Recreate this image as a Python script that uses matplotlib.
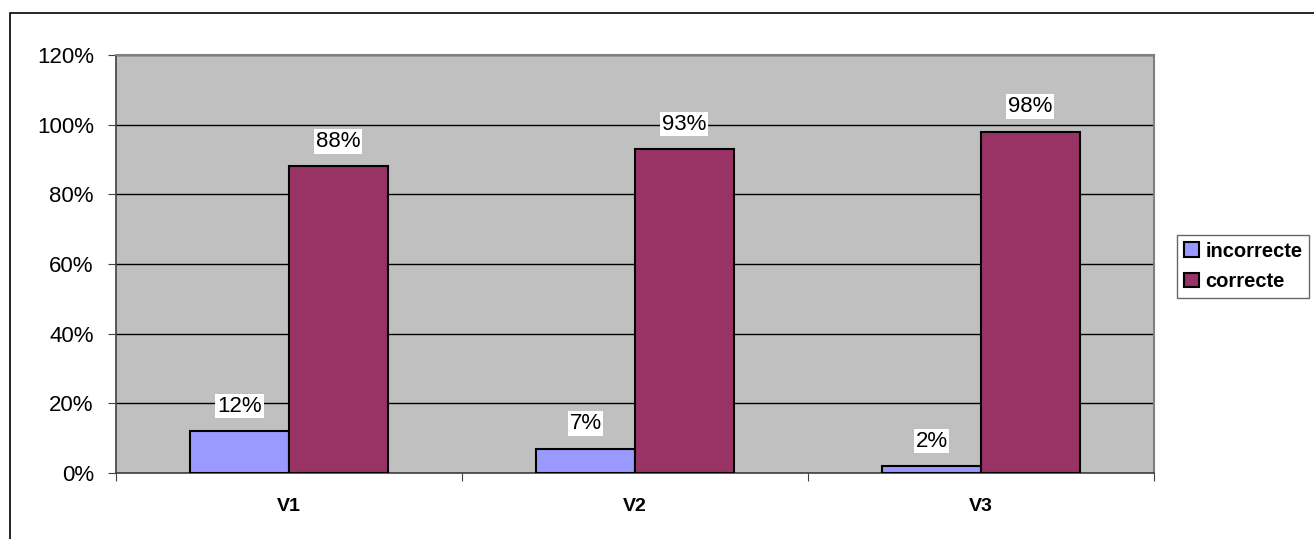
import numpy as np
import matplotlib.pyplot as plt
from matplotlib.patches import Rectangle

categories = ['V1', 'V2', 'V3']
incorrecte = [12, 7, 2]
correcte = [88, 93, 98]
yticks = [0, 20, 40, 60, 80, 100, 120]

plt.rcParams['font.family'] = ['Liberation Sans', 'DejaVu Sans']

W, H = 1314, 539
fig = plt.figure(figsize=(W / 100, H / 100), dpi=100)
# plot area in pixels: left 116, top 55, right 1154, bottom 473
ax = fig.add_axes([116 / W, 1 - 473 / H, (1154 - 116) / W, (473 - 55) / H])
ax.set_facecolor('#C0C0C0')

# outer chart border (right and bottom fall outside the image)
fig.patches.append(Rectangle((10 / W, -0.05), 1.0, 1 - 13 / H + 0.05,
                             transform=fig.transFigure, fill=False,
                             edgecolor='black', linewidth=1.2))

x = np.arange(len(categories))
bw = 1 / 3.5
b1 = ax.bar(x - bw / 2, incorrecte, bw, color='#9999FF', edgecolor='black',
            linewidth=1.5, label='incorrecte', zorder=3)
b2 = ax.bar(x + bw / 2, correcte, bw, color='#993366', edgecolor='black',
            linewidth=1.5, label='correcte', zorder=3)

for bars, vals in ((b1, incorrecte), (b2, correcte)):
    for rect, v in zip(bars, vals):
        ax.annotate(f'{v}%', (rect.get_x() + rect.get_width() / 2, v),
                    xytext=(0, 18), textcoords='offset points',
                    ha='center', va='center', fontsize=16, zorder=4,
                    bbox=dict(boxstyle='square,pad=0.08', fc='white', ec='none'))

ax.set_xlim(-0.5, len(categories) - 0.5)
ax.set_ylim(0, 120)
ax.set_yticks(yticks)
ax.set_yticklabels([f'{t}%' for t in yticks], fontsize=16)
ax.yaxis.grid(True, color='black', linewidth=1)
ax.set_axisbelow(True)

ax.set_xticks(np.arange(len(categories) + 1) - 0.5)
ax.set_xticklabels([])
ax.set_xticks(x, minor=True)
ax.set_xticklabels(categories, minor=True, fontsize=14, fontweight='bold')
ax.tick_params(axis='x', which='minor', length=0, pad=18)
ax.tick_params(axis='x', which='major', length=6, color='#404040')
ax.tick_params(axis='y', length=6, color='#404040', pad=10)

for s in ('top', 'right'):
    ax.spines[s].set_color('#808080')
    ax.spines[s].set_linewidth(1.5)
ax.spines['left'].set_color('#404040')
ax.spines['bottom'].set_color('#404040')
ax.spines['left'].set_linewidth(1.2)
ax.spines['bottom'].set_linewidth(1.2)

leg = fig.legend(loc='lower left', bbox_to_anchor=(1177 / W, 1 - 298 / H),
                 prop={'weight': 'bold', 'size': 14.5}, frameon=True,
                 fancybox=False, edgecolor='#404040', handlelength=0.75,
                 handleheight=0.75, handletextpad=0.3, borderpad=0.35,
                 labelspacing=0.55, borderaxespad=0)
leg.get_frame().set_linewidth(1)

fig.savefig('out.png', dpi=100)
